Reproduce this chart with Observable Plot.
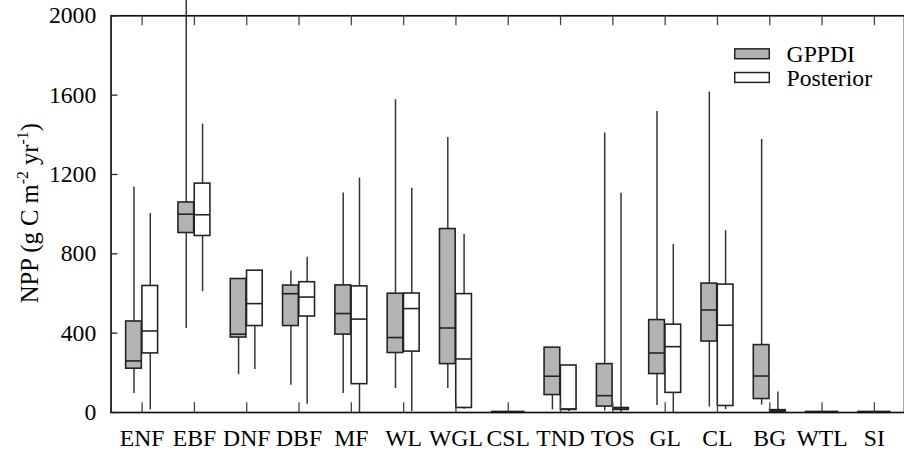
<!DOCTYPE html>
<html><head><meta charset="utf-8">
<script src="https://cdn.jsdelivr.net/npm/d3@7"></script>
<script src="https://cdn.jsdelivr.net/npm/@observablehq/plot@0.6"></script>
<style>
html,body{margin:0;padding:0;background:#fff;overflow:hidden;}
#wrap{position:relative;width:904px;height:456px;overflow:hidden;}
</style></head><body><div id="wrap"></div>
<script>
const categories = ["ENF","EBF","DNF","DBF","MF","WL","WGL","CSL","TND","TOS","GL","CL","BG","WTL","SI"];
const seriesNames = ["GPPDI","Posterior"];
const yTicks = [0, 400, 800, 1200, 1600, 2000];

// GPPDI box statistics
const gppdiMin = [96, 423, 191, 138, 96, 121, 121, 0, 13, 8, 35, 28, 38, 0, 0];
const gppdiQ1  = [221, 905, 378, 436, 393, 300, 244, 0, 88, 30, 194, 358, 68, 0, 0];
const gppdiMed = [260, 1000, 395, 599, 499, 378, 426, 1, 183, 85, 300, 517, 184, 1, 1];
const gppdiQ3  = [459, 1059, 673, 640, 641, 599, 925, 3, 327, 244, 466, 650, 340, 3, 3];
const gppdiMax = [1137, 2100, 673, 713, 1107, 1577, 1386, 3, 327, 1409, 1517, 1616, 1376, 3, 3];

// Posterior box statistics
const postMin = [13, 609, 217, 42, 0, 5, 17, 0, 5, 0, 0, 15, 0, 0, 0];
const postQ1  = [298, 890, 436, 484, 143, 307, 23, 0, 13, 13, 99, 33, 5, 0, 0];
const postMed = [411, 997, 549, 582, 471, 524, 270, 1, 18, 18, 332, 440, 8, 1, 1];
const postQ3  = [638, 1154, 715, 657, 636, 600, 597, 3, 237, 23, 443, 645, 12, 3, 3];
const postMax = [1003, 1454, 715, 783, 1182, 1131, 897, 3, 237, 1106, 847, 917, 104, 3, 3];

const gray = categories.map((c, i) => ({cat: c, series: seriesNames[0], min: gppdiMin[i], q1: gppdiQ1[i], med: gppdiMed[i], q3: gppdiQ3[i], max: gppdiMax[i]}));
const white = categories.map((c, i) => ({cat: c, series: seriesNames[1], min: postMin[i], q1: postQ1[i], med: postMed[i], q3: postQ3[i], max: postMax[i]}));

const X0 = 112, step = 53.6, W = X0 + step * categories.length;
const mT = 15.5, mB = 38.5, H = 456, frameH = H - mT - mB;
const half = step / 2, boxW = 16.5;
const boxStroke = "#222", whiskStroke = "#333";
const font = "Liberation Serif, DejaVu Serif, serif";

const plot = Plot.plot({
  width: W, height: H,
  marginLeft: X0, marginRight: 0, marginTop: mT, marginBottom: mB,
  style: {fontFamily: font, fontSize: "24px", background: "#fff", color: "#000", overflow: "hidden"},
  x: {domain: categories, padding: 0, label: null},
  y: {domain: [0, 2000], label: null},
  marks: [
    Plot.ruleX(gray, {x: "cat", y1: "min", y2: "max", dx: -boxW / 2, stroke: whiskStroke, strokeWidth: 1.5}),
    Plot.ruleX(white, {x: "cat", y1: "min", y2: "max", dx: boxW / 2, stroke: whiskStroke, strokeWidth: 1.5}),
    Plot.barY(gray, {x: "cat", y1: "q1", y2: "q3", insetLeft: half - boxW, insetRight: half, fill: "#b3b3b3", stroke: boxStroke, strokeWidth: 1.6}),
    Plot.barY(white, {x: "cat", y1: "q1", y2: "q3", insetLeft: half, insetRight: half - boxW, fill: "#fff", stroke: boxStroke, strokeWidth: 1.6}),
    Plot.tickY(gray, {x: "cat", y: "med", insetLeft: half - boxW, insetRight: half, stroke: boxStroke, strokeWidth: 1.6}),
    Plot.tickY(white, {x: "cat", y: "med", insetLeft: half, insetRight: half - boxW, stroke: boxStroke, strokeWidth: 1.6}),
    Plot.frame({stroke: "#111", strokeWidth: 1.7}),
    Plot.axisY({ticks: yTicks, tickSize: 0, tickPadding: 15, tickFormat: d => String(d), fontFamily: font}),
    Plot.tickY(yTicks, {y: d => d, insetRight: W - X0 - 7, stroke: "#222", strokeWidth: 1.3}),
    Plot.axisX({tickSize: 0, tickPadding: 17, fontFamily: font}),
    Plot.ruleX(categories, {x: d => d, insetTop: frameH - 10, stroke: "#444", strokeWidth: 1.3}),
    Plot.ruleX(categories, {x: d => d, insetBottom: frameH - 10, stroke: "#444", strokeWidth: 1.3})
  ]
});

const svg = d3.select(plot);
// legend inside the plot area
const leg = svg.append("g").attr("font-family", font).attr("font-size", 24).attr("fill", "#000").attr("text-anchor", "start");
[[seriesNames[0], "#b3b3b3"], [seriesNames[1], "#fff"]].forEach(([name, fill], k) => {
  leg.append("rect").attr("x", 744.5).attr("y", 49.5 + 24 * k).attr("width", 35).attr("height", 10)
    .attr("fill", fill).attr("stroke", boxStroke).attr("stroke-width", 1.5);
  leg.append("text").attr("x", 797).attr("y", 63 + 24 * k).text(name);
});
// y-axis label with superscripts
const yl = svg.append("text").attr("transform", "translate(38,216) rotate(-90)")
  .attr("text-anchor", "middle").attr("font-family", font).attr("font-size", 25).attr("fill", "#000");
yl.append("tspan").text("NPP (g C m");
yl.append("tspan").attr("dy", -10).attr("font-size", 16).text("-2");
yl.append("tspan").attr("dy", 10).text(" yr");
yl.append("tspan").attr("dy", -10).attr("font-size", 16).text("-1");
yl.append("tspan").attr("dy", 10).text(")");

document.getElementById("wrap").appendChild(plot);
</script></body></html>
